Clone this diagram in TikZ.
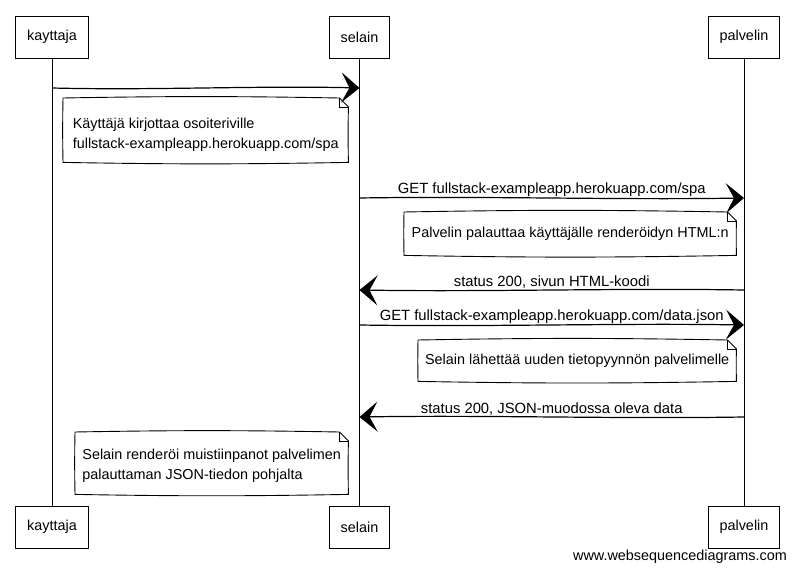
\documentclass[tikz,border=0pt]{standalone}
\usepackage{fontspec}
\setmainfont{Liberation Sans}
\usetikzlibrary{arrows.meta,calc}

% outline of a note with a folded top-right corner
\newcommand\foldnote[1]{%
  \draw[noteline] (#1.north west) to[bend left=1] ([xshift=-9pt]#1.north east)
    -- ([yshift=-9pt]#1.north east) to[bend right=1] (#1.south east)
    to[bend left=1] (#1.south west) to[bend left=1] cycle;
  \draw[noteline] ([xshift=-9pt]#1.north east) -- ([xshift=-9pt,yshift=-9pt]#1.north east)
    -- ([yshift=-9pt]#1.north east);
}

\begin{document}
\begin{tikzpicture}[x=1pt,y=-1pt,
  every node/.style={font=\fontsize{14.4}{20}\selectfont},
  actor/.style={draw, line width=0.9pt, minimum height=42pt, inner xsep=11.5pt},
  life/.style={line width=0.9pt},
  wavy/.style={to path={.. controls ($(\tikztostart)!0.33!(\tikztotarget)+(0,#1)$)
      and ($(\tikztostart)!0.67!(\tikztotarget)-(0,#1)$) .. (\tikztotarget)}},
  msg/.style={line width=1.2pt, -{Stealth[length=18pt,width=30pt,inset=8pt]}},
  lbl/.style={above, inner sep=1pt, font=\fontsize{14.8}{20}\selectfont},
  note/.style={anchor=north west, align=left, inner xsep=6.5pt, inner ysep=5pt},
  noteline/.style={line width=0.9pt},
  footer/.style={anchor=east, inner sep=0pt}
]
\useasboundingbox (0,0) rectangle (796,572);

% participants, top and bottom
\node[actor] (ka-top) at (52,37) {kayttaja};
\node[actor] (se-top) at (359.5,37) {selain};
\node[actor] (pa-top) at (744,37) {palvelin};
\node[actor] (ka-bot) at (52,527) {kayttaja};
\node[actor] (se-bot) at (359.5,527) {selain};
\node[actor] (pa-bot) at (744,527) {palvelin};

% lifelines
\draw[life] (ka-top) -- (ka-bot);
\draw[life] (se-top) -- (se-bot);
\draw[life] (pa-top) -- (pa-bot);

% message rows
\coordinate (r1) at (0,88);
\coordinate (r2) at (0,198);
\coordinate (r3) at (0,290);
\coordinate (r4) at (0,325);
\coordinate (r5) at (0,417);
\coordinate (k1) at (ka-top |- r1);
\coordinate (s1) at (se-top |- r1);
\coordinate (s2) at (se-top |- r2);
\coordinate (p2) at (pa-top |- r2);
\coordinate (s3) at (se-top |- r3);
\coordinate (p3) at (pa-top |- r3);
\coordinate (s4) at (se-top |- r4);
\coordinate (p4) at (pa-top |- r4);
\coordinate (s5) at (se-top |- r5);
\coordinate (p5) at (pa-top |- r5);

% messages
\draw[msg] (k1) to[wavy=2.5] (s1);
\draw[msg] (s2) to[wavy=-2] (p2);
\path (s2) -- node[lbl] {GET fullstack-exampleapp.herokuapp.com/spa} (p2);
\draw[msg] (p3) to[wavy=-2] (s3);
\path (s3) -- node[lbl] {status 200, sivun HTML-koodi} (p3);
\draw[msg] (s4) to[wavy=2] (p4);
\path (s4) -- node[lbl] {GET fullstack-exampleapp.herokuapp.com/data.json} (p4);
\draw[msg] (p5) to[wavy=2] (s5);
\path (s5) -- node[lbl] {status 200, JSON-muodossa oleva data} (p5);

% notes (the leading struts push the two-line texts a little lower)
\node[note, minimum width=285pt, minimum height=64pt] (n1) at (63,98)
  {\rule{0pt}{20pt}Käyttäjä kirjottaa osoiteriville\\fullstack-exampleapp.herokuapp.com/spa};
\foldnote{n1}
\node[note, minimum width=332pt, minimum height=43pt] (n2) at (404,212)
  {Palvelin palauttaa käyttäjälle renderöidyn HTML:n};
\foldnote{n2}
\node[note, minimum width=318pt, minimum height=41pt] (n3) at (418,340)
  {Selain lähettää uuden tietopyynnön palvelimelle};
\foldnote{n3}
\node[note, minimum width=273pt, minimum height=62pt] (n4) at (75,432)
  {\rule{0pt}{15pt}Selain renderöi muistiinpanot palvelimen\\palauttaman JSON-tiedon pohjalta};
\foldnote{n4}

% footer
\node[footer] (wsd) at (787,557) {www.websequencediagrams.com};
\end{tikzpicture}
\end{document}
